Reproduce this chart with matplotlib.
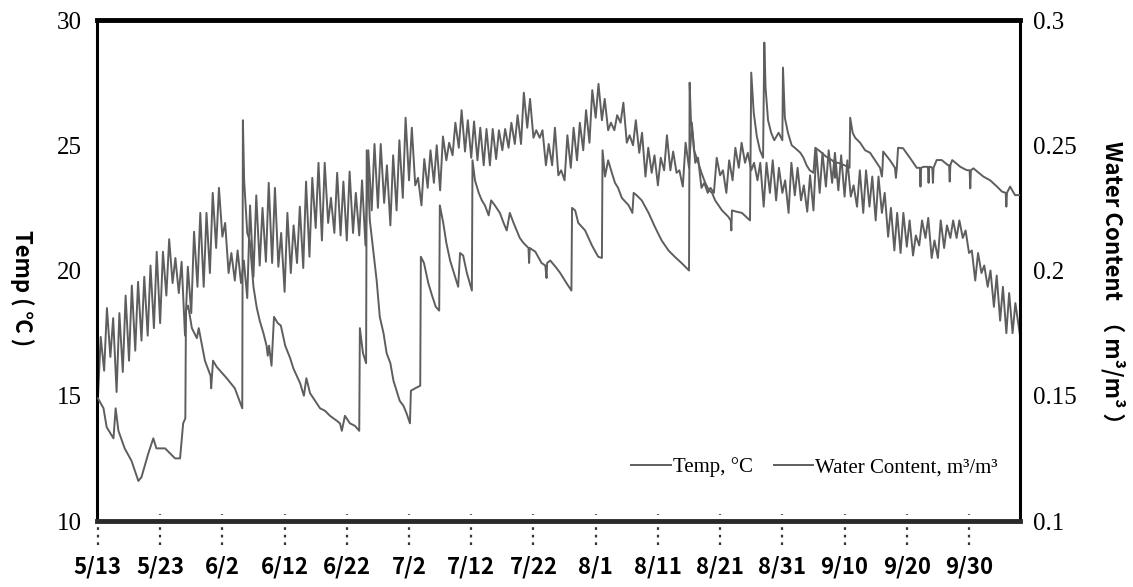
import matplotlib
matplotlib.use("Agg")
import matplotlib.pyplot as plt
from matplotlib.lines import Line2D
import numpy as np

# x axis: days since 5/13
tick_days = [0, 10, 20, 30, 40, 50, 60, 70, 80, 90, 100, 110, 120, 130, 140]
tick_labels = ["5/13", "5/23", "6/2", "6/12", "6/22", "7/2", "7/12", "7/22",
               "8/1", "8/11", "8/21", "8/31", "9/10", "9/20", "9/30"]

# soil temperature, daily low / high (deg C)
temp_min = [
    14.9, 16.0, 16.55, 15.15, 15.95, 16.4, 16.8, 17.2, 17.4, 17.7,
    17.9, 19.0, 19.5, 19.1, 17.4, 18.3, 19.35, 19.35, 19.9, 20.9,
    21.35, 19.9, 19.6, 19.5, 18.9, 19.75, 20.2, 20.35, 20.3, 20.15,
    19.15, 19.9, 20.3, 20.1, 20.55, 21.7, 21.2, 21.9, 21.5, 21.4,
    21.2, 21.5, 21.4, 21.0, 22.4, 22.5, 22.7, 21.8, 22.4, 22.9,
    23.6, 23.4, 22.6, 23.3, 23.5, 23.2, 24.4, 24.6, 24.9, 24.75,
    24.5, 24.4, 24.2, 24.2, 24.45, 24.8, 24.9, 25.05, 25.05, 25.7,
    25.3, 25.3, 24.2, 24.2, 23.8, 23.6, 24.1, 24.4, 24.8, 25.1,
    26.1, 26.0, 25.6, 25.6, 25.9, 25.1, 25.0, 24.7, 23.75, 23.9,
    23.4, 24.0, 24.0, 23.9, 23.35, 24.1, 24.3, 23.3, 23.1, 23.1,
    23.8, 23.1, 23.6, 24.1, 24.3, 24.0, 23.6, 22.55, 23.1, 22.8,
    23.1, 22.3, 23.0, 22.8, 22.35, 22.4, 23.1, 23.35, 23.5, 23.2,
    22.95, 22.95, 22.55, 22.3, 22.55, 22.0, 22.3, 21.35, 20.8, 20.7,
    20.95, 20.6, 21.0, 21.3, 20.5, 20.5, 20.9, 21.3, 21.3, 21.3,
    20.7, 19.6, 19.9, 19.35, 18.55, 18.0, 17.5, 17.5,
]
temp_max = [
    17.35, 18.5, 18.1, 18.3, 19.0, 19.4, 19.55, 19.75, 20.2, 20.75,
    20.75, 21.25, 20.5, 20.35, 20.15, 21.55, 22.3, 22.3, 23.1, 23.3,
    21.9, 20.7, 20.8, 20.4, 22.6, 23.0, 22.5, 23.5, 23.3, 21.5,
    22.3, 21.8, 22.55, 23.55, 23.7, 24.3, 24.3, 22.9, 23.9, 23.55,
    23.95, 23.1, 23.6, 24.8, 25.05, 25.05, 24.2, 24.6, 25.2, 26.1,
    25.7, 23.7, 24.45, 24.8, 25.0, 25.35, 25.1, 25.9, 26.4, 26.0,
    25.95, 25.7, 25.65, 25.65, 25.6, 25.65, 25.9, 26.2, 27.1, 26.85,
    25.6, 25.6, 25.05, 25.7, 24.0, 25.4, 25.7, 25.9, 26.4, 27.2,
    27.45, 26.85, 25.9, 26.2, 26.7, 25.4, 26.0, 25.5, 24.9, 24.6,
    24.5, 25.4, 24.75, 24.0, 25.1, 25.9, 24.5, 23.5, 23.3, 24.5,
    24.0, 24.4, 24.9, 25.1, 24.7, 24.3, 24.3, 24.3, 24.4, 24.1,
    23.6, 24.3, 24.1, 23.4, 23.8, 24.8, 24.7, 24.8, 24.7, 24.6,
    24.4, 23.4, 24.0, 24.0, 23.75, 23.75, 23.1, 22.5, 22.3, 22.3,
    22.0, 21.4, 22.0, 22.1, 21.2, 22.0, 21.8, 22.0, 22.0, 21.6,
    20.8, 20.7, 20.2, 20.0, 19.8, 19.35, 19.1, 18.7,
]
temp_last = 17.4

# volumetric water content (m3/m3), day offsets and readings
water_day = [
    0.0, 0.9, 1.4, 2.5, 2.85, 3.3, 4.3, 5.4, 6.5, 7.0, 8.1, 8.9, 9.4, 10.8, 12.4, 13.2, 13.7, 14.05,
    14.15, 14.5, 15.1, 15.9, 16.2, 17.2, 18.1, 18.2, 18.5, 19.1, 20.7, 22.0, 23.2,
    23.3, 23.5, 24.0, 24.4, 25.0, 25.5, 26.0, 26.6, 27.1, 27.3, 27.5, 27.9, 28.3, 28.9, 29.4, 30.1,
    30.9, 31.4, 32.5, 33.1, 33.5, 34.1, 34.9, 35.7, 36.5, 37.3, 38.4, 38.9, 39.2, 39.7, 40.5, 41.3, 42.0,
    42.1, 42.6, 43.1,
    43.2, 43.5, 43.7, 44.3, 44.8, 45.3, 45.9, 46.4, 47.0, 47.5, 48.0, 48.5, 49.1, 49.6, 50.15,
    50.3, 51.0, 51.8,
    51.9, 52.4, 53.1, 53.7, 54.3, 54.85,
    54.95, 55.5, 56.0, 56.6, 57.1, 57.9, 58.2, 58.7, 59.3, 60.1,
    60.2, 60.6, 61.2, 61.7, 62.2, 62.8, 63.2, 63.8, 64.6, 65.2, 65.7, 66.2, 66.8, 67.3, 67.8,
    68.4, 69.2, 69.3, 69.4, 70.3, 71.3, 71.9, 72.1, 72.2, 72.7, 73.7, 74.3, 75.3, 76.1,
    76.2, 76.7, 77.2, 78.3, 79.4, 80.4, 81.0,
    81.1, 81.5, 82.0, 82.6, 83.1, 83.6, 84.2, 85.3, 85.9, 86.1, 86.6, 87.4, 88.5, 89.5, 90.6,
    91.7, 92.7, 93.8, 94.6, 95.0,
    95.1, 95.3, 95.6, 95.8, 96.5, 97.0, 97.6, 98.2, 98.7, 99.2, 100.3, 101.3, 101.7, 101.8, 101.9,
    102.6, 103.5, 104.8,
    105.0, 105.4, 105.9, 106.4, 106.9,
    107.1, 107.3, 107.7, 108.2, 108.7, 109.4, 110.0,
    110.1, 110.4, 110.9, 111.5, 112.0, 112.9, 113.4, 113.9, 114.4, 115.0,
    115.3, 116.1, 117.0, 118.0, 118.4, 118.5, 118.6, 119.0, 120.0, 120.8,
    120.9, 121.3, 121.7, 122.5, 123.3, 124.1, 124.9, 125.7, 126.0, 126.1, 126.2, 127.3, 128.1, 128.25, 128.4,
    128.6, 129.4, 130.5, 131.1, 131.6, 132.1, 132.2, 132.3, 132.7, 133.4, 133.5, 133.6, 133.8, 134.1,
    134.2, 134.3, 134.8, 135.6, 136.6, 136.8, 136.9, 137.0, 137.3, 138.6, 139.6, 140.1, 140.2, 140.3,
    140.7, 142.3, 143.4, 144.5, 145.3, 145.9, 146.0, 146.1, 146.6, 147.4, 148.2,
]
water_vwc = [
    0.149, 0.145, 0.1375, 0.133, 0.145, 0.136, 0.129, 0.124, 0.116, 0.1175, 0.127, 0.133, 0.129, 0.129, 0.125, 0.125, 0.139, 0.141,
    0.184, 0.186, 0.177, 0.173, 0.177, 0.164, 0.158, 0.153, 0.164, 0.1615, 0.157, 0.153, 0.145,
    0.260, 0.236, 0.215, 0.212, 0.1935, 0.1855, 0.180, 0.175, 0.170, 0.166, 0.170, 0.162, 0.1815, 0.179, 0.178, 0.170,
    0.165, 0.161, 0.155, 0.150, 0.157, 0.151, 0.148, 0.145, 0.144, 0.142, 0.140, 0.139, 0.136, 0.142, 0.139, 0.138, 0.136,
    0.177, 0.167, 0.163,
    0.248, 0.232, 0.220, 0.207, 0.196, 0.1815, 0.175, 0.167, 0.163, 0.156, 0.152, 0.148, 0.146, 0.143, 0.139,
    0.152, 0.153, 0.154,
    0.2055, 0.203, 0.195, 0.190, 0.1855, 0.184,
    0.226, 0.219, 0.211, 0.204, 0.200, 0.1935, 0.207, 0.206, 0.199, 0.192,
    0.244, 0.236, 0.231, 0.228, 0.226, 0.222, 0.228, 0.226, 0.223, 0.219, 0.216, 0.223, 0.219, 0.216, 0.213,
    0.211, 0.209, 0.203, 0.209, 0.2075, 0.203, 0.202, 0.197, 0.203, 0.204, 0.201, 0.199, 0.195, 0.192,
    0.225, 0.224, 0.219, 0.216, 0.210, 0.2055, 0.205,
    0.248, 0.2375, 0.244, 0.239, 0.235, 0.233, 0.229, 0.226, 0.223, 0.231, 0.230, 0.228, 0.223, 0.2175, 0.212,
    0.208, 0.2055, 0.203, 0.201, 0.200,
    0.275, 0.260, 0.254, 0.248, 0.243, 0.239, 0.235, 0.232, 0.231, 0.228, 0.224, 0.2215, 0.220, 0.216, 0.224,
    0.2235, 0.223, 0.220,
    0.279, 0.263, 0.2535, 0.248, 0.245,
    0.291, 0.273, 0.260, 0.255, 0.252, 0.255, 0.252,
    0.281, 0.261, 0.255, 0.250, 0.249, 0.247, 0.245, 0.242, 0.240, 0.239,
    0.249, 0.2475, 0.2455, 0.244, 0.243, 0.237, 0.243, 0.243, 0.242, 0.241,
    0.261, 0.255, 0.253, 0.251, 0.248, 0.247, 0.244, 0.241, 0.2375, 0.241, 0.2475, 0.244, 0.241, 0.237, 0.241,
    0.249, 0.2488, 0.245, 0.2428, 0.241, 0.241, 0.2335, 0.241, 0.2414, 0.2414, 0.235, 0.2414, 0.2414, 0.241,
    0.235, 0.241, 0.2441, 0.2441, 0.2421, 0.242, 0.2355, 0.242, 0.2441, 0.2414, 0.2401, 0.240, 0.2328, 0.240,
    0.2408, 0.2375, 0.236, 0.2335, 0.2315, 0.231, 0.2255, 0.231, 0.2335, 0.2301, 0.2301,
]

line_color = "#5e5e5e"
serif = ["Liberation Serif", "DejaVu Serif"]
sans = ["Noto Sans CJK KR", "DejaVu Sans"]

# interleave lows and highs into one diurnal trace
days = np.arange(len(temp_min))
temp_t = np.append(np.column_stack([days, days + 0.45]).ravel(), 148.2)
temp_v = np.append(np.column_stack([temp_min, temp_max]).ravel(), temp_last)

fig = plt.figure(figsize=(11.33, 5.87), dpi=100)
ax = fig.add_axes([0.0856, 0.1124, 0.8147, 0.8535])
ax2 = ax.twinx()

ax.plot(temp_t, temp_v, color=line_color, lw=1.4)
ax2.plot(water_day, water_vwc, color=line_color, lw=1.4)

ax.set_xlim(-0.15, 148.2)
ax.set_ylim(10, 30)
ax2.set_ylim(0.1, 0.3)

ax.set_yticks([10, 15, 20, 25, 30])
ax2.set_yticks([0.1, 0.15, 0.2, 0.25, 0.3])
ax2.set_yticklabels(["0.1", "0.15", "0.2", "0.25", "0.3"])
ax.tick_params(axis="y", length=0, pad=11, labelsize=18, labelfontfamily=serif)
ax2.tick_params(axis="y", length=0, pad=9, labelsize=18, labelfontfamily=serif)

ax.set_xticks(tick_days)
ax.set_xticklabels(tick_labels, fontweight="bold", family=sans, fontsize=16)
ax.tick_params(axis="x", length=0, pad=25)

# dotted tick marks crossing the bottom axis
ax.vlines(tick_days, -0.048, 0.014, transform=ax.get_xaxis_transform(),
          colors="#333333", linestyles=(0, (1.2, 2.2)), lw=1.6, clip_on=False)

for side in ax2.spines:
    ax2.spines[side].set_visible(False)
ax.spines["top"].set_linewidth(3.5)
ax.spines["bottom"].set_linewidth(3.5)
ax.spines["bottom"].set_color("#2a2a2a")
ax.spines["left"].set_linewidth(2.2)
ax.spines["right"].set_linewidth(2.2)

fig.text(0.019, 1 - 288 / 587, "Temp ( ℃ )", rotation=-90, ha="center", va="center",
         fontsize=16, fontweight="bold", family=sans)
fig.text(0.982, 1 - 288 / 587, "Water Content  （ m³/m³ ）", rotation=-90, ha="center",
         va="center", fontsize=16, fontweight="bold", family=sans)

handles = [Line2D([], [], color=line_color, lw=1.4), Line2D([], [], color=line_color, lw=1.4)]
ax2.legend(handles, ["Temp, °C", "Water Content, m³/m³"], ncol=2, frameon=False,
           loc="center", bbox_to_anchor=(0.719, 0.204), bbox_transform=fig.transFigure,
           prop={"family": serif, "size": 15}, handlelength=1.9, handletextpad=0.1,
           columnspacing=1.0)

fig.savefig("out.png", dpi=100)
